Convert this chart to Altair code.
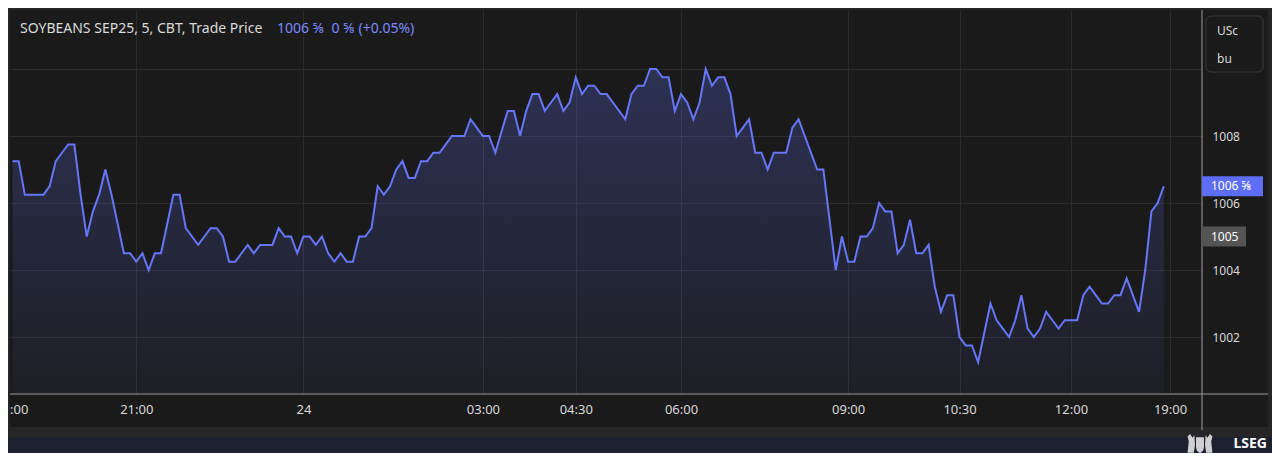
import json
import altair as alt
import pandas as pd

# ---- data (5-minute bars, index order) ----
prices = [
    1007.25, 1007.25, 1006.25, 1006.25, 1006.25, 1006.25, 1006.5, 1007.25, 1007.5, 1007.75,
    1007.75, 1006.25, 1005.0, 1005.75, 1006.25, 1007.0, 1006.25, 1005.375, 1004.5, 1004.5,
    1004.25, 1004.5, 1004.0, 1004.5, 1004.5, 1005.375, 1006.25, 1006.25, 1005.25, 1005.0,
    1004.75, 1005.0, 1005.25, 1005.25, 1005.0, 1004.25, 1004.25, 1004.5, 1004.75, 1004.5,
    1004.75, 1004.75, 1004.75, 1005.25, 1005.0, 1005.0, 1004.5, 1005.0, 1005.0, 1004.75,
    1005.0, 1004.5, 1004.25, 1004.5, 1004.25, 1004.25, 1005.0, 1005.0, 1005.25, 1006.5,
    1006.25, 1006.5, 1007.0, 1007.25, 1006.75, 1006.75, 1007.25, 1007.25, 1007.5, 1007.5,
    1007.75, 1008.0, 1008.0, 1008.0, 1008.5, 1008.25, 1008.0, 1008.0, 1007.5, 1008.125,
    1008.75, 1008.75, 1008.0, 1008.75, 1009.25, 1009.25, 1008.75, 1009.0, 1009.25, 1008.75,
    1009.0, 1009.75, 1009.25, 1009.5, 1009.5, 1009.25, 1009.25, 1009.0, 1008.75, 1008.5,
    1009.25, 1009.5, 1009.5, 1010.0, 1010.0, 1009.75, 1009.75, 1008.75, 1009.25, 1009.0,
    1008.5, 1009.0, 1010.0, 1009.5, 1009.75, 1009.75, 1009.25, 1008.0, 1008.25, 1008.5,
    1007.5, 1007.5, 1007.0, 1007.5, 1007.5, 1007.5, 1008.25, 1008.5, 1008.0, 1007.5,
    1007.0, 1007.0, 1005.5, 1004.0, 1005.0, 1004.25, 1004.25, 1005.0, 1005.0, 1005.25,
    1006.0, 1005.75, 1005.75, 1004.5, 1004.75, 1005.5, 1004.5, 1004.5, 1004.75, 1003.5,
    1002.75, 1003.25, 1003.25, 1002.0, 1001.75, 1001.75, 1001.25, 1002.125, 1003.0, 1002.5,
    1002.25, 1002.0, 1002.5, 1003.25, 1002.25, 1002.0, 1002.25, 1002.75, 1002.5, 1002.25,
    1002.5, 1002.5, 1002.5, 1003.25, 1003.5, 1003.25, 1003.0, 1003.0, 1003.25, 1003.25,
    1003.75, 1003.25, 1002.75, 1004.0, 1005.75, 1006.0, 1006.5,
]
tick_idx = [20, 47, 76, 91, 108, 135, 153, 171, 187]
tick_labels = ["21:00", "24", "03:00", "04:30", "06:00", "09:00", "10:30", "12:00", "19:00"]
y_ticks = [1002, 1004, 1006, 1008, 1010]
title_main = "SOYBEANS SEP25, 5, CBT, Trade Price"
title_quote = "1006 ⅝ \u00a00 ⅝ (+0.05%)"
last_label = "1006 ⅝"
ref_value = [1005.0]
ref_label = ["1005"]
unit_lines = ["USc", "bu"]
brand = "LSEG"
cut_label = ":00"

# ---- layout / style ----
W, H = 1192, 384
X_DOM = [-0.4, 192.17]
Y_DOM = [1000.299, 1011.761]
PX_PER_UNIT = H / (Y_DOM[1] - Y_DOM[0])
FONT = "Noto Sans, DejaVu Sans, sans-serif"
BG = "#1a1a1a"
FRAME = "#262626"
BAND = "#1e2230"
LINE = "#6676fa"
GRID = "#2c2c2c"
LABEL = "#d8d8d8"
AXLINE = "#9a9a9a"

df = pd.DataFrame({"i": list(range(len(prices))), "price": prices})

label_expr = f"{json.dumps(tick_labels)}[indexof({json.dumps(tick_idx)}, datum.value)]"
x_scale = alt.Scale(domain=X_DOM, nice=False, zero=False)
y_scale = alt.Scale(domain=Y_DOM, nice=False, zero=False)

x_axis = alt.Axis(values=tick_idx, labelExpr=label_expr, title=None, grid=True,
                  gridColor=GRID, gridWidth=1, domain=False, ticks=False, tickSize=0,
                  labelPadding=9, labelColor=LABEL, labelFont=FONT, labelFontSize=13,
                  labelFlush=False, labelOverlap=False, labelAngle=0)
y_axis = alt.Axis(orient="right", values=y_ticks, format="d",
                  labelExpr="datum.value == 1010 ? '' : datum.label", title=None,
                  grid=True, gridColor=GRID, gridWidth=1, domain=False, ticks=False,
                  tickSize=0, labelPadding=10, labelColor=LABEL, labelFont=FONT,
                  labelFontSize=12, labelAlign="left", labelBaseline="middle")

x_enc = alt.X("i:Q", scale=x_scale, axis=x_axis)
y_enc = alt.Y("price:Q", scale=y_scale, axis=y_axis)

gradient = alt.Gradient(
    gradient="linear",
    stops=[alt.GradientStop(color="rgba(99,117,247,0.05)", offset=0),
           alt.GradientStop(color="rgba(99,117,247,0.26)", offset=1)],
    x1=1, x2=1, y1=1, y2=0,
)

area = alt.Chart(df).mark_area(color=gradient).encode(
    x=x_enc, y=y_enc, y2=alt.datum(Y_DOM[0]))
line = alt.Chart(df).mark_line(color=LINE, strokeWidth=2).encode(x=x_enc, y=y_enc)


def one():
    return pd.DataFrame({"k": [0]})


def rect_px(x, x2, y, y2, **kw):
    return alt.Chart(one()).mark_rect(**kw).encode(
        x=alt.value(x), x2=alt.value(x2), y=alt.value(y), y2=alt.value(y2))


def text_px(s, x, y, **kw):
    return alt.Chart(pd.DataFrame({"t": [s]})).mark_text(**kw).encode(
        x=alt.value(x), y=alt.value(y), text="t:N")


# frame & bands (outside plot area)
frame_left = rect_px(-2, 0, -2, 427, color=FRAME)
frame_top = rect_px(-2, 1262, -2, 0, color=FRAME)
frame_right = rect_px(1258, 1262, -2, 427, color=FRAME)
frame_bottom = rect_px(-2, 1262, 417, 427, color=FRAME)
band = rect_px(-2, 1262, 427, 445, color=BAND)

# axis lines
x_line = alt.Chart(one()).mark_rule(color=AXLINE, strokeWidth=1).encode(
    x=alt.value(0), x2=alt.value(1258), y=alt.value(H))
y_line = alt.Chart(one()).mark_rule(color=AXLINE, strokeWidth=1).encode(
    x=alt.value(W), y=alt.value(0), y2=alt.value(420))

# title texts
t_main = text_px(title_main, 10, 19, align="left", baseline="middle", color="#dadada",
                 font=FONT, fontSize=14)
t_quote = text_px(title_quote, 267, 19, align="left", baseline="middle", color="#7d89ff",
                  font=FONT, fontSize=14)

# unit box
unit_box = rect_px(1196, 1253, 6, 62, fill="transparent", stroke="#3b3b3b",
                   strokeWidth=1, cornerRadius=5)
unit_t1 = text_px(unit_lines[0], 1207, 21, align="left", baseline="middle",
                  color="#d9d9d9", font=FONT, fontSize=12)
unit_t2 = text_px(unit_lines[1], 1207, 49, align="left", baseline="middle",
                  color="#d9d9d9", font=FONT, fontSize=12)

# last price box and reference box (share the y axis definition so it merges)
half = 10 / PX_PER_UNIT
last_val = prices[-1]
last_df = pd.DataFrame({"price": [last_val], "hi": [last_val + half],
                        "lo": [last_val - half], "t": [last_label]})
last_box = alt.Chart(last_df).mark_rect(color="#5d6ef5").encode(
    x=alt.value(W), x2=alt.value(W + 61),
    y=alt.Y("hi:Q", scale=y_scale, axis=y_axis), y2="lo:Q")
last_txt = alt.Chart(last_df).mark_text(align="left", baseline="middle", color="white",
                                        font=FONT, fontSize=12).encode(
    x=alt.value(W + 9), y=alt.Y("price:Q", scale=y_scale, axis=y_axis), text="t:N")

ref_df = pd.DataFrame({"price": ref_value, "hi": [ref_value[0] + half],
                       "lo": [ref_value[0] - half], "t": ref_label})
ref_box = alt.Chart(ref_df).mark_rect(color="#545454").encode(
    x=alt.value(W), x2=alt.value(W + 44),
    y=alt.Y("hi:Q", scale=y_scale, axis=y_axis), y2="lo:Q")
ref_txt = alt.Chart(ref_df).mark_text(align="left", baseline="middle", color="white",
                                      font=FONT, fontSize=12).encode(
    x=alt.value(W + 9), y=alt.Y("price:Q", scale=y_scale, axis=y_axis), text="t:N")

# partially visible first time label
cut_txt = text_px(cut_label, 0, 400, align="left", baseline="middle", color=LABEL,
                  font=FONT, fontSize=13)

# brand
crest_path = ("M-1,0.7 L-0.9,-0.2 L-1,-0.6 L-0.8,-0.8 L-0.6,-0.5 L-0.45,-0.7 L-0.4,0.1 L-0.5,0.7 Z "
              "M1,0.7 L0.9,-0.2 L1,-0.6 L0.8,-0.8 L0.6,-0.5 L0.45,-0.7 L0.4,0.1 L0.5,0.7 Z "
              "M-0.32,-0.55 L0.32,-0.55 L0.32,0.2 Q0.32,0.6 0,0.72 Q-0.32,0.6 -0.32,0.2 Z "
              "M-0.9,0.78 L0.9,0.78 L0.9,0.92 L-0.9,0.92 Z")
crest = alt.Chart(one()).mark_point(shape=crest_path, filled=True, color="#d0d0d0",
                                    size=620, opacity=1).encode(
    x=alt.value(1190), y=alt.value(434))
brand_txt = text_px(brand, 1257, 434, align="right", baseline="middle", color="white",
                    font=FONT, fontSize=14, fontWeight="bold")

chart = alt.layer(
    area, line,
    frame_left, frame_top, frame_right, frame_bottom, band,
    x_line, y_line,
    t_main, t_quote,
    unit_box, unit_t1, unit_t2,
    ref_box, ref_txt, last_box, last_txt,
    cut_txt, crest, brand_txt,
).properties(
    width=W, height=H,
    padding={"left": 2, "top": 2, "right": 70, "bottom": 59},
    autosize=alt.AutoSizeParams(type="none"),
).configure(background=BG).configure_view(strokeWidth=0)

chart.save("out.html", embed_options={"renderer": "svg", "actions": False})
